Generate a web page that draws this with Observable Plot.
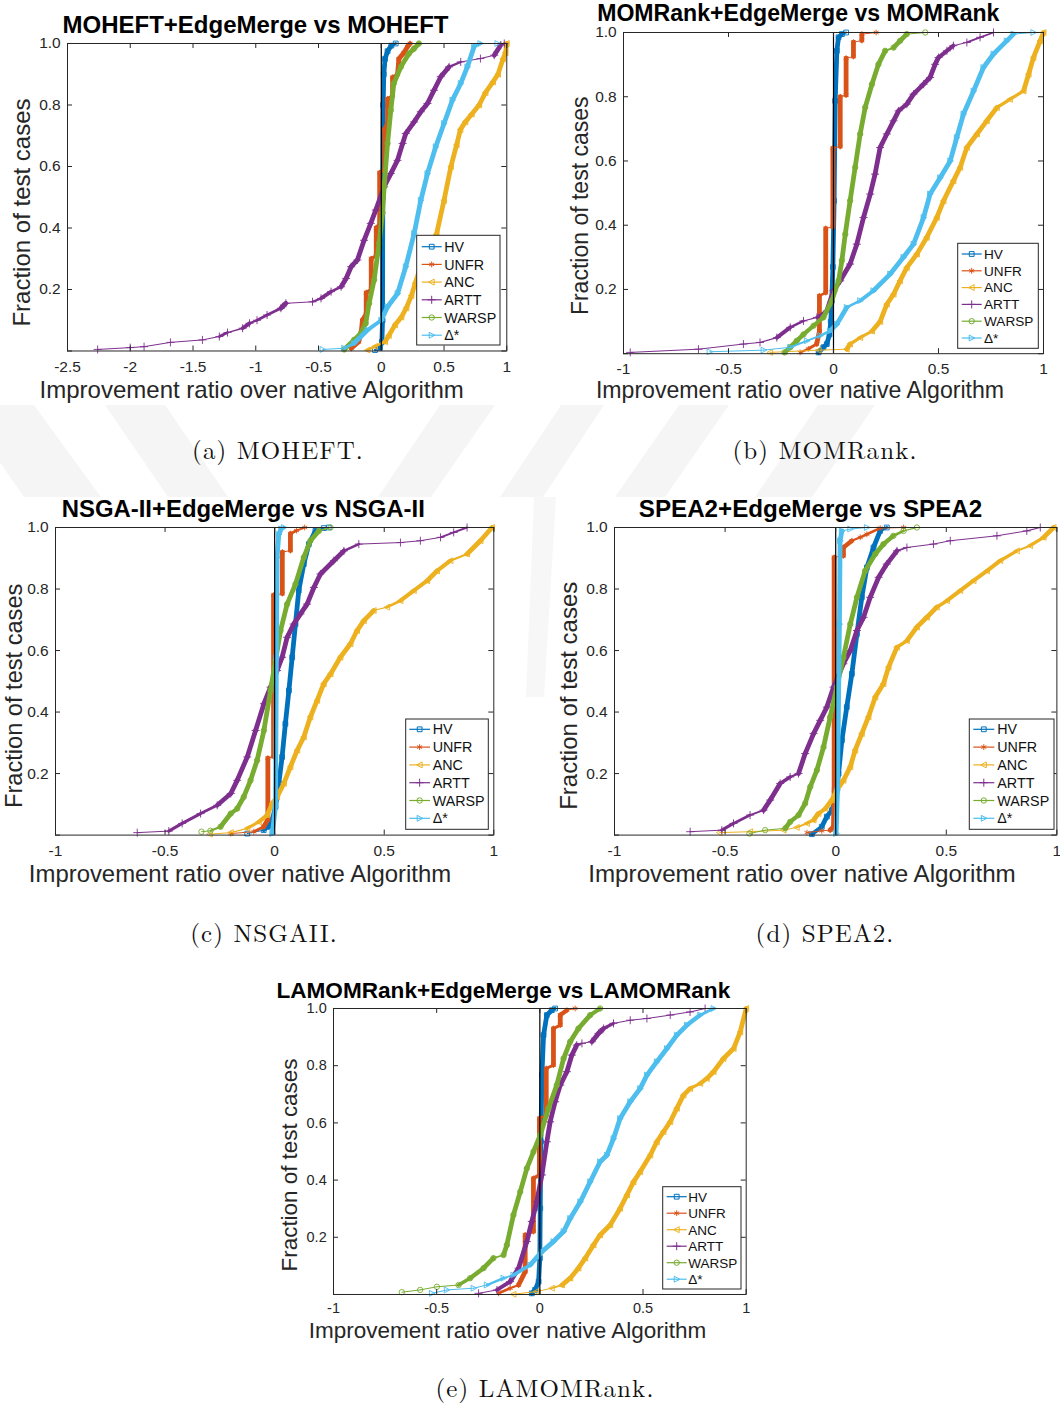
<!DOCTYPE html>
<html>
<head>
<meta charset="utf-8">
<script src="https://cdn.jsdelivr.net/npm/d3@7"></script>
<script src="https://cdn.jsdelivr.net/npm/@observablehq/plot@0.6"></script>
<style>
  html, body { margin: 0; padding: 0; background: #fff; }
  #page { position: relative; width: 1060px; height: 1409px; overflow: hidden; background: #fff; }
  #page svg { position: absolute; }
</style>
</head>
<body>
<div id="page"></div>
<script>
// ---------------------------------------------------------------------------
// Data: empirical CDFs of the improvement ratio, one [ratio, fraction] list per
// metric and per base algorithm.
// ---------------------------------------------------------------------------
const seriesNames = ["HV", "UNFR", "ANC", "ARTT", "WARSP", "Δ*"];
const yTickValues = [0.2, 0.4, 0.6, 0.8, 1.0];
const yTickMarks = [0, 0.2, 0.4, 0.6, 0.8, 1.0];
const xTicksWide = [-2.5, -2, -1.5, -1, -0.5, 0, 0.5, 1];
const xTicksUnit = [-1, -0.5, 0, 0.5, 1];

// (a) MOHEFT
const moheftHV = [[-0.05,0.003],[-0.01,0.01],[0.005,0.03],[0.01,0.1],[0.012,0.5],[0.015,0.8],[0.02,0.9],[0.03,0.95],[0.05,0.975],[0.08,0.993],[0.115,1.0]];
const moheftUNFR = [[-0.24,0.008],[-0.18,0.03],[-0.16,0.06],[-0.15,0.1],[-0.12,0.12],[-0.12,0.19],[-0.08,0.2],[-0.08,0.3],[-0.04,0.31],[-0.04,0.4],[-0.013,0.41],[-0.013,0.58],[0.027,0.59],[0.027,0.72],[0.05,0.74],[0.05,0.82],[0.09,0.83],[0.09,0.89],[0.13,0.9],[0.14,0.95],[0.18,0.97],[0.21,0.99],[0.23,1.0]];
const moheftANC = [[-0.11,0.003],[-0.05,0.015],[0.03,0.03],[0.06,0.05],[0.11,0.085],[0.16,0.11],[0.2,0.14],[0.24,0.18],[0.27,0.22],[0.32,0.28],[0.38,0.33],[0.44,0.38],[0.5,0.49],[0.555,0.6],[0.6,0.67],[0.63,0.72],[0.67,0.745],[0.72,0.77],[0.78,0.8],[0.83,0.84],[0.89,0.875],[0.93,0.9],[0.97,0.95],[0.99,0.97],[1.0,1.0]];
const moheftARTT = [[-2.26,0.005],[-2.0,0.011],[-1.89,0.014],[-1.68,0.028],[-1.425,0.036],[-1.29,0.047],[-1.225,0.06],[-1.105,0.074],[-1.05,0.09],[-0.99,0.1],[-0.91,0.117],[-0.8,0.139],[-0.76,0.155],[-0.548,0.16],[-0.48,0.171],[-0.4,0.193],[-0.32,0.209],[-0.28,0.236],[-0.24,0.274],[-0.19,0.296],[-0.137,0.36],[-0.084,0.415],[-0.044,0.458],[0.023,0.534],[0.076,0.577],[0.129,0.62],[0.17,0.675],[0.195,0.707],[0.262,0.745],[0.315,0.778],[0.368,0.805],[0.42,0.848],[0.474,0.892],[0.54,0.924],[0.633,0.94],[0.79,0.951],[0.9,0.962],[0.952,0.995],[0.98,1.0]];
const moheftWARSP = [[-0.296,0.005],[-0.217,0.036],[-0.163,0.057],[-0.124,0.09],[-0.097,0.155],[-0.057,0.231],[-0.017,0.35],[0.01,0.45],[0.023,0.534],[0.05,0.675],[0.076,0.783],[0.1,0.87],[0.156,0.924],[0.22,0.967],[0.26,0.983],[0.3,1.0]];
const moheftDelta = [[-0.468,0.005],[-0.296,0.009],[-0.217,0.025],[-0.11,0.068],[0.0,0.1],[0.05,0.144],[0.13,0.187],[0.195,0.274],[0.262,0.382],[0.315,0.49],[0.368,0.577],[0.434,0.664],[0.5,0.74],[0.567,0.816],[0.633,0.87],[0.686,0.924],[0.74,0.99],[0.79,1.0],[0.925,1.0]];

// (b) MOMRank
const momrankHV = [[-0.071,0.004],[-0.048,0.02],[-0.032,0.03],[-0.019,0.06],[-0.013,0.1],[-0.008,0.165],[-0.003,0.27],[0.003,0.476],[0.008,0.787],[0.016,0.943],[0.024,0.985],[0.04,0.995],[0.06,1.0]];
const momrankUNFR = [[-0.159,0.004],[-0.12,0.015],[-0.08,0.03],[-0.067,0.07],[-0.067,0.18],[-0.037,0.19],[-0.037,0.39],[-0.003,0.395],[-0.003,0.64],[0.032,0.645],[0.032,0.8],[0.06,0.805],[0.06,0.92],[0.095,0.925],[0.095,0.97],[0.135,0.975],[0.135,0.995],[0.203,1.0]];
const momrankANC = [[-0.302,0.004],[-0.071,0.011],[0.063,0.014],[0.079,0.03],[0.127,0.05],[0.183,0.07],[0.222,0.1],[0.254,0.154],[0.286,0.185],[0.317,0.227],[0.349,0.268],[0.397,0.31],[0.444,0.362],[0.492,0.424],[0.524,0.476],[0.571,0.538],[0.603,0.58],[0.635,0.642],[0.683,0.684],[0.73,0.725],[0.778,0.766],[0.84,0.792],[0.905,0.818],[0.929,0.87],[0.952,0.922],[0.984,0.974],[1.0,1.0]];
const momrankARTT = [[-0.968,0.004],[-0.643,0.014],[-0.429,0.03],[-0.35,0.035],[-0.27,0.05],[-0.206,0.082],[-0.143,0.102],[-0.079,0.113],[-0.032,0.133],[0.0,0.196],[0.032,0.227],[0.079,0.279],[0.111,0.341],[0.143,0.424],[0.175,0.497],[0.198,0.559],[0.222,0.642],[0.254,0.684],[0.286,0.725],[0.31,0.756],[0.349,0.777],[0.381,0.808],[0.429,0.839],[0.46,0.86],[0.484,0.901],[0.5,0.922],[0.54,0.943],[0.571,0.959],[0.635,0.969],[0.698,0.985],[0.762,1.0]];
const momrankWARSP = [[-0.233,0.004],[-0.206,0.02],[-0.175,0.04],[-0.143,0.06],[-0.095,0.087],[-0.048,0.113],[-0.008,0.165],[0.024,0.227],[0.04,0.29],[0.056,0.372],[0.079,0.476],[0.103,0.58],[0.127,0.684],[0.151,0.767],[0.183,0.839],[0.214,0.901],[0.246,0.943],[0.286,0.953],[0.317,0.974],[0.349,0.995],[0.437,1.0]];
const momrankDelta = [[-0.59,0.006],[-0.333,0.011],[-0.206,0.02],[-0.127,0.04],[-0.063,0.056],[-0.016,0.071],[0.016,0.092],[0.063,0.144],[0.127,0.165],[0.19,0.196],[0.27,0.248],[0.333,0.3],[0.381,0.341],[0.429,0.424],[0.46,0.497],[0.508,0.548],[0.556,0.6],[0.587,0.673],[0.619,0.746],[0.667,0.818],[0.714,0.891],[0.762,0.933],[0.825,0.974],[0.857,0.995],[0.952,1.0]];

// (c) NSGA-II
const nsgaHV = [[-0.125,0.005],[-0.05,0.016],[-0.027,0.027],[-0.011,0.049],[0.004,0.092],[0.019,0.168],[0.034,0.254],[0.049,0.362],[0.065,0.47],[0.08,0.578],[0.095,0.686],[0.11,0.795],[0.133,0.881],[0.156,0.946],[0.186,0.989],[0.224,0.998],[0.247,1.0]];
const nsgaUNFR = [[-0.2,0.005],[-0.095,0.011],[-0.05,0.027],[-0.031,0.05],[-0.031,0.25],[-0.005,0.255],[-0.005,0.78],[0.035,0.785],[0.035,0.92],[0.072,0.925],[0.072,0.98],[0.1,0.99],[0.137,1.0]];
const nsgaANC = [[-0.296,0.003],[-0.2,0.008],[-0.125,0.022],[-0.072,0.043],[-0.034,0.065],[-0.011,0.103],[0.011,0.124],[0.042,0.168],[0.072,0.222],[0.103,0.276],[0.133,0.319],[0.163,0.384],[0.194,0.438],[0.224,0.492],[0.255,0.524],[0.3,0.578],[0.346,0.622],[0.376,0.665],[0.407,0.697],[0.452,0.73],[0.513,0.741],[0.574,0.762],[0.635,0.795],[0.696,0.827],[0.741,0.859],[0.802,0.892],[0.878,0.914],[0.939,0.957],[0.992,1.0]];
const nsgaARTT = [[-0.627,0.008],[-0.483,0.013],[-0.422,0.038],[-0.338,0.07],[-0.262,0.097],[-0.2,0.135],[-0.171,0.178],[-0.125,0.254],[-0.087,0.34],[-0.049,0.427],[-0.019,0.481],[0.011,0.535],[0.034,0.578],[0.057,0.643],[0.087,0.686],[0.118,0.719],[0.148,0.751],[0.179,0.805],[0.209,0.849],[0.27,0.892],[0.316,0.924],[0.384,0.946],[0.574,0.951],[0.665,0.957],[0.757,0.968],[0.817,0.984],[0.878,1.0]];
const nsgaWARSP = [[-0.334,0.011],[-0.293,0.014],[-0.247,0.027],[-0.2,0.07],[-0.171,0.086],[-0.141,0.124],[-0.11,0.178],[-0.08,0.243],[-0.049,0.34],[-0.019,0.47],[0.004,0.568],[0.027,0.665],[0.057,0.751],[0.095,0.816],[0.133,0.903],[0.163,0.957],[0.202,0.989],[0.255,1.0]];
const nsgaDelta = [[-0.011,0.005],[0.004,0.092],[0.008,0.578],[0.011,0.903],[0.019,0.978],[0.03,0.995],[0.042,1.0]];

// (d) SPEA2
const speaHV = [[-0.108,0.003],[-0.063,0.027],[-0.04,0.06],[-0.017,0.081],[0.0,0.12],[0.013,0.2],[0.028,0.308],[0.05,0.416],[0.073,0.524],[0.096,0.654],[0.118,0.773],[0.141,0.87],[0.171,0.935],[0.201,0.989],[0.231,1.0]];
const speaUNFR = [[-0.13,0.008],[-0.063,0.014],[-0.025,0.016],[-0.01,0.027],[-0.007,0.146],[-0.007,0.903],[0.035,0.908],[0.035,0.935],[0.073,0.957],[0.111,0.968],[0.141,0.978],[0.201,0.998],[0.307,1.0]];
const speaANC = [[-0.525,0.008],[-0.387,0.011],[-0.236,0.016],[-0.176,0.025],[-0.13,0.038],[-0.1,0.049],[-0.078,0.07],[-0.047,0.086],[-0.017,0.114],[0.005,0.146],[0.035,0.178],[0.066,0.222],[0.088,0.276],[0.118,0.33],[0.148,0.384],[0.179,0.449],[0.216,0.492],[0.239,0.546],[0.277,0.611],[0.322,0.632],[0.367,0.676],[0.412,0.708],[0.457,0.741],[0.503,0.762],[0.563,0.795],[0.623,0.827],[0.684,0.859],[0.744,0.892],[0.819,0.924],[0.879,0.941],[0.94,0.968],[0.985,1.0]];
const speaARTT = [[-0.658,0.011],[-0.515,0.016],[-0.462,0.038],[-0.387,0.065],[-0.326,0.081],[-0.296,0.114],[-0.251,0.168],[-0.206,0.189],[-0.168,0.2],[-0.138,0.265],[-0.1,0.33],[-0.07,0.373],[-0.04,0.416],[-0.01,0.481],[0.035,0.557],[0.066,0.6],[0.096,0.665],[0.126,0.708],[0.156,0.773],[0.194,0.838],[0.231,0.881],[0.277,0.924],[0.322,0.935],[0.442,0.946],[0.518,0.957],[0.729,0.973],[0.864,0.989],[0.925,1.0]];
const speaWARSP = [[-0.39,0.005],[-0.319,0.016],[-0.228,0.022],[-0.206,0.043],[-0.168,0.065],[-0.138,0.103],[-0.115,0.157],[-0.085,0.211],[-0.055,0.286],[-0.025,0.384],[0.005,0.481],[0.035,0.578],[0.066,0.686],[0.096,0.773],[0.133,0.859],[0.179,0.914],[0.216,0.946],[0.261,0.973],[0.307,0.989],[0.367,1.0]];
const speaDelta = [[0.002,0.005],[0.008,0.146],[0.017,0.686],[0.02,0.957],[0.028,0.989],[0.066,0.995],[0.141,1.0]];

// (e) LAMOMRank
const lamomHV = [[-0.039,0.004],[-0.023,0.016],[-0.006,0.045],[0.0,0.127],[0.002,0.301],[0.005,0.534],[0.01,0.767],[0.018,0.907],[0.034,0.977],[0.058,0.994],[0.074,1.0]];
const lamomUNFR = [[-0.2,0.004],[-0.144,0.022],[-0.103,0.033],[-0.071,0.08],[-0.071,0.208],[-0.031,0.22],[-0.031,0.406],[-0.002,0.418],[-0.002,0.616],[0.031,0.627],[0.031,0.79],[0.066,0.802],[0.066,0.93],[0.099,0.942],[0.099,0.977],[0.131,0.994],[0.171,1.0]];
const lamomANC = [[-0.128,0.001],[-0.018,0.01],[0.058,0.022],[0.107,0.033],[0.147,0.057],[0.187,0.092],[0.22,0.127],[0.26,0.173],[0.292,0.208],[0.341,0.243],[0.389,0.301],[0.422,0.348],[0.454,0.394],[0.486,0.429],[0.535,0.487],[0.567,0.534],[0.599,0.569],[0.632,0.604],[0.664,0.651],[0.696,0.697],[0.728,0.72],[0.777,0.738],[0.809,0.755],[0.842,0.779],[0.89,0.825],[0.939,0.86],[0.971,0.918],[1.0,1.0]];
const lamomARTT = [[-0.297,0.004],[-0.208,0.016],[-0.144,0.045],[-0.103,0.092],[-0.063,0.185],[-0.039,0.255],[-0.015,0.324],[0.01,0.418],[0.034,0.534],[0.05,0.604],[0.074,0.674],[0.099,0.732],[0.131,0.779],[0.155,0.837],[0.179,0.872],[0.204,0.878],[0.252,0.884],[0.284,0.913],[0.309,0.93],[0.357,0.948],[0.438,0.959],[0.519,0.965],[0.632,0.977],[0.728,0.988],[0.801,1.0]];
const lamomWARSP = [[-0.669,0.008],[-0.58,0.016],[-0.499,0.027],[-0.394,0.033],[-0.338,0.057],[-0.273,0.092],[-0.225,0.127],[-0.176,0.138],[-0.16,0.173],[-0.128,0.278],[-0.095,0.359],[-0.063,0.441],[-0.031,0.499],[0.002,0.557],[0.042,0.651],[0.082,0.732],[0.115,0.825],[0.147,0.884],[0.187,0.93],[0.244,0.977],[0.292,1.0]];
const lamomDelta = [[-0.523,0.004],[-0.451,0.016],[-0.321,0.022],[-0.257,0.033],[-0.176,0.057],[-0.128,0.068],[-0.047,0.103],[0.01,0.15],[0.066,0.185],[0.115,0.22],[0.147,0.266],[0.196,0.324],[0.244,0.394],[0.292,0.464],[0.325,0.487],[0.357,0.545],[0.389,0.615],[0.438,0.674],[0.486,0.72],[0.519,0.767],[0.567,0.814],[0.616,0.86],[0.664,0.907],[0.713,0.942],[0.777,0.977],[0.842,1.0]];

// ---------------------------------------------------------------------------
// Styling and layout
// ---------------------------------------------------------------------------
const seriesColors = ["#0072BD", "#D95319", "#EDB120", "#7E2F8E", "#77AC30", "#4DBEEE"];
const axisInk = "#262626";
const sansFont = "'Liberation Sans', Arial, Helvetica, sans-serif";
const serifFont = "'Latin Modern Roman', 'Liberation Serif', 'Times New Roman', serif";

// open markers: square, asterisk, left / right triangles, plus, circle
const triangleLeft = {
  draw(ctx, size) {
    const r = Math.sqrt(size / Math.PI) * 1.15;
    ctx.moveTo(-r, 0); ctx.lineTo(r * 0.8, -r * 0.95); ctx.lineTo(r * 0.8, r * 0.95); ctx.closePath();
  }
};
const triangleRight = {
  draw(ctx, size) {
    const r = Math.sqrt(size / Math.PI) * 1.15;
    ctx.moveTo(r, 0); ctx.lineTo(-r * 0.8, -r * 0.95); ctx.lineTo(-r * 0.8, r * 0.95); ctx.closePath();
  }
};
const seriesSymbols = [d3.symbolSquare, d3.symbolAsterisk, triangleLeft, d3.symbolPlus, d3.symbolCircle, triangleRight];
const markerR = 2.7;
// dense runs of markers merge into a thick band; sparse runs show a thin line
const strokeDensityN = 200;

const panels = [
  {
    title: "MOHEFT+EdgeMerge vs MOHEFT", caption: "(a) MOHEFT.",
    series: [moheftHV, moheftUNFR, moheftANC, moheftARTT, moheftWARSP, moheftDelta],
    xDomain: [-2.5, 1], xTicks: xTicksWide,
    frame: {x: 66.7, y: 43.3, w: 439.3, h: 307.5},
    tickFs: 15.5, xPad: 10,
    titleAt: [255.5, 33.3, 24], xLabelAt: [251.7, 398.3, 24], yLabelAt: [30, 212.5, 24],
    captionAt: [278, 459.3],
    legend: {x: 416.7, y: 235.3, w: 83.3, h: 109.7, row0: 246.7, step: 17.7, l0: 421.7, l1: 441.7, tx: 444.3, fs: 14.3}
  },
  {
    title: "MOMRank+EdgeMerge vs MOMRank", caption: "(b) MOMRank.",
    series: [momrankHV, momrankUNFR, momrankANC, momrankARTT, momrankWARSP, momrankDelta],
    xDomain: [-1, 1], xTicks: xTicksUnit,
    frame: {x: 623.3, y: 31.7, w: 420, h: 321.2},
    tickFs: 15.5, xPad: 9,
    titleAt: [798.3, 20.7, 23.1], xLabelAt: [800, 398.3, 23.1], yLabelAt: [588, 205.8, 23],
    captionAt: [825, 459.3],
    legend: {x: 957.7, y: 243.3, w: 80.6, h: 105, row0: 254, step: 16.8, l0: 961.7, l1: 981.7, tx: 984, fs: 13.6}
  },
  {
    title: "NSGA-II+EdgeMerge vs NSGA-II", caption: "(c) NSGAII.",
    series: [nsgaHV, nsgaUNFR, nsgaANC, nsgaARTT, nsgaWARSP, nsgaDelta],
    xDomain: [-1, 1], xTicks: xTicksUnit,
    frame: {x: 55, y: 526.7, w: 438.3, h: 307.6},
    tickFs: 15.5, xPad: 9.7,
    titleAt: [243.3, 516.7, 23.9], xLabelAt: [240, 881.7, 23.9], yLabelAt: [21.5, 695.8, 23.6],
    captionAt: [264, 942],
    legend: {x: 405.7, y: 719, w: 82.6, h: 110.3, row0: 729.3, step: 17.8, l0: 409.3, l1: 430, tx: 432.7, fs: 14.3}
  },
  {
    title: "SPEA2+EdgeMerge vs SPEA2", caption: "(d) SPEA2.",
    series: [speaHV, speaUNFR, speaANC, speaARTT, speaWARSP, speaDelta],
    xDomain: [-1, 1], xTicks: xTicksUnit,
    frame: {x: 614.3, y: 526.7, w: 442.4, h: 307.6},
    tickFs: 15.5, xPad: 9.7,
    titleAt: [810.5, 516.7, 24.2], xLabelAt: [802, 881.7, 24.2], yLabelAt: [576.7, 695.8, 24],
    captionAt: [825, 942],
    legend: {x: 969.3, y: 719, w: 84.7, h: 110.3, row0: 729.3, step: 17.8, l0: 973.3, l1: 994.3, tx: 997.3, fs: 14.3}
  },
  {
    title: "LAMOMRank+EdgeMerge vs LAMOMRank", caption: "(e) LAMOMRank.",
    series: [lamomHV, lamomUNFR, lamomANC, lamomARTT, lamomWARSP, lamomDelta],
    xDomain: [-1, 1], xTicks: xTicksUnit,
    frame: {x: 333.3, y: 1008.3, w: 412.7, h: 286},
    tickFs: 14.5, xPad: 8.7,
    titleAt: [503.3, 997.5, 22.6], xLabelAt: [507.5, 1338.3, 22.5], yLabelAt: [297.3, 1165, 22.4],
    captionAt: [545, 1397],
    legend: {x: 662.7, y: 1186.7, w: 78.3, h: 102.3, row0: 1196.7, step: 16.5, l0: 666.7, l1: 686.7, tx: 688.3, fs: 13.5}
  }
];

const page = document.getElementById("page");

// ---------------------------------------------------------------------------
// Faint background watermark: slanted light-grey bands in the gaps between panels
// ---------------------------------------------------------------------------
const backdrop = d3.create("svg")
  .attr("width", 1060).attr("height", 1409)
  .style("left", "0px").style("top", "0px");
const clip = backdrop.append("clipPath").attr("id", "gapClip");
clip.append("rect").attr("x", 0).attr("y", 405).attr("width", 1060).attr("height", 92);
clip.append("rect").attr("x", 526).attr("y", 497).attr("width", 32).attr("height", 200);
const bandTop = 405, bandBottom = 497;
// [left, right] at the top edge and at the bottom edge of the gap strip
const bands = [
  [[-40, 34], [24, 101]],
  [[105, 165], [168, 228]],
  [[440, 495], [378, 431]],
  [[561, 604], [500, 543]],
  [[679, 729], [615, 665]],
  [[818, 875], [755, 812]]
];
const bandsG = backdrop.append("g").attr("clip-path", "url(#gapClip)").attr("fill", "#f5f5f5");
for (const [[t0, t1], [b0, b1]] of bands) {
  bandsG.append("path").attr("d", `M${t0},${bandTop}L${t1},${bandTop}L${b1},${bandBottom}L${b0},${bandBottom}Z`);
}
bandsG.append("path").attr("d", "M534,497L556,497L544,697L526,697Z").attr("fill", "#f7f7f7");
page.appendChild(backdrop.node());

// ---------------------------------------------------------------------------
// Plot panels
// ---------------------------------------------------------------------------
const mL = 48, mR = 12, mT = 12, mB = 34;

function panelPlot(p) {
  const {frame, xDomain, xTicks} = p;
  const kx = frame.w / (xDomain[1] - xDomain[0]);
  const ky = frame.h;
  const marks = [];
  p.series.forEach((pts, i) => {
    const color = seriesColors[i];
    const segments = d3.pairs(pts).map(([a, b]) => {
      const dy = b[1] - a[1];
      const len = Math.hypot((b[0] - a[0]) * kx, dy * ky);
      const density = len > 0 ? (dy * strokeDensityN) / len : 1;
      const t = Math.max(0, Math.min(1, (density - 0.15) / 0.3));
      return {x1: a[0], y1: a[1], x2: b[0], y2: b[1], w: 1 + 3.8 * t};
    });
    marks.push(Plot.link(segments, {
      x1: "x1", y1: "y1", x2: "x2", y2: "y2",
      stroke: color, strokeWidth: "w", strokeLinecap: "round", strokeLinejoin: "round"
    }));
    marks.push(Plot.dot(pts, {
      x: (d) => d[0], y: (d) => d[1],
      symbol: seriesSymbols[i], r: markerR,
      stroke: color, fill: "none", strokeWidth: 0.9
    }));
  });

  return Plot.plot({
    width: frame.w + mL + mR,
    height: frame.h + mT + mB,
    marginLeft: mL, marginRight: mR, marginTop: mT, marginBottom: mB,
    x: {domain: xDomain},
    y: {domain: [0, 1]},
    style: {fontFamily: sansFont, color: axisInk, background: "transparent", overflow: "visible"},
    marks: [
      ...marks,
      Plot.ruleX([0], {stroke: "#000", strokeWidth: 1.2}),
      Plot.tickX(xTicks, {x: (d) => d, stroke: axisInk, insetTop: frame.h - 5}),
      Plot.tickX(xTicks, {x: (d) => d, stroke: axisInk, insetBottom: frame.h - 5}),
      Plot.tickY(yTickMarks, {y: (d) => d, stroke: axisInk, insetRight: frame.w - 5}),
      Plot.tickY(yTickMarks, {y: (d) => d, stroke: axisInk, insetLeft: frame.w - 5}),
      Plot.frame({stroke: axisInk, strokeWidth: 1}),
      Plot.axisX(xTicks, {
        anchor: "bottom", tickSize: 0, tickPadding: p.xPad, fontSize: p.tickFs,
        tickFormat: (d) => String(d), label: null, fill: axisInk
      }),
      Plot.axisY(yTickValues, {
        anchor: "left", tickSize: 0, tickPadding: 6.8, fontSize: p.tickFs,
        tickFormat: (d) => d.toFixed(1), label: null, fill: axisInk
      })
    ]
  });
}

for (const p of panels) {
  const svg = panelPlot(p);
  svg.style.left = (p.frame.x - mL) + "px";
  svg.style.top = (p.frame.y - mT) + "px";
  page.appendChild(svg);
}

// ---------------------------------------------------------------------------
// Titles, axis labels, captions and legends
// ---------------------------------------------------------------------------
const overlay = d3.create("svg")
  .attr("width", 1060).attr("height", 1409)
  .style("left", "0px").style("top", "0px")
  .style("pointer-events", "none");

for (const p of panels) {
  const [tx, ty, tfs] = p.titleAt;
  overlay.append("text")
    .attr("x", tx).attr("y", ty)
    .attr("text-anchor", "middle")
    .attr("font-family", sansFont).attr("font-weight", "bold").attr("font-size", tfs)
    .attr("fill", "#000")
    .text(p.title);

  const [xx, xy, xfs] = p.xLabelAt;
  overlay.append("text")
    .attr("x", xx).attr("y", xy)
    .attr("text-anchor", "middle")
    .attr("font-family", sansFont).attr("font-size", xfs)
    .attr("fill", axisInk)
    .text("Improvement ratio over native Algorithm");

  const [yx, yy, yfs] = p.yLabelAt;
  overlay.append("text")
    .attr("transform", `translate(${yx},${yy}) rotate(-90)`)
    .attr("text-anchor", "middle")
    .attr("font-family", sansFont).attr("font-size", yfs)
    .attr("fill", axisInk)
    .text("Fraction of test cases");

  const [cx, cy] = p.captionAt;
  overlay.append("text")
    .attr("x", cx).attr("y", cy)
    .attr("text-anchor", "middle")
    .attr("font-family", serifFont).attr("font-size", 25)
    .attr("letter-spacing", 1.1)
    .attr("fill", "#111")
    .text(p.caption);

  // legend box
  const lg = p.legend;
  const g = overlay.append("g");
  g.append("rect")
    .attr("x", lg.x).attr("y", lg.y).attr("width", lg.w).attr("height", lg.h)
    .attr("fill", "#fff").attr("stroke", axisInk).attr("stroke-width", 1);
  seriesNames.forEach((name, i) => {
    const ry = lg.row0 + i * lg.step;
    const color = seriesColors[i];
    g.append("line")
      .attr("x1", lg.l0).attr("x2", lg.l1).attr("y1", ry).attr("y2", ry)
      .attr("stroke", color).attr("stroke-width", 1.2);
    g.append("path")
      .attr("transform", `translate(${(lg.l0 + lg.l1) / 2},${ry})`)
      .attr("d", d3.symbol(seriesSymbols[i], markerR * markerR * Math.PI)())
      .attr("fill", "none").attr("stroke", color).attr("stroke-width", 1);
    g.append("text")
      .attr("x", lg.tx).attr("y", ry)
      .attr("dy", "0.36em")
      .attr("font-family", sansFont).attr("font-size", lg.fs)
      .attr("fill", "#111")
      .text(name);
  });
}

page.appendChild(overlay.node());
</script>
</body>
</html>
